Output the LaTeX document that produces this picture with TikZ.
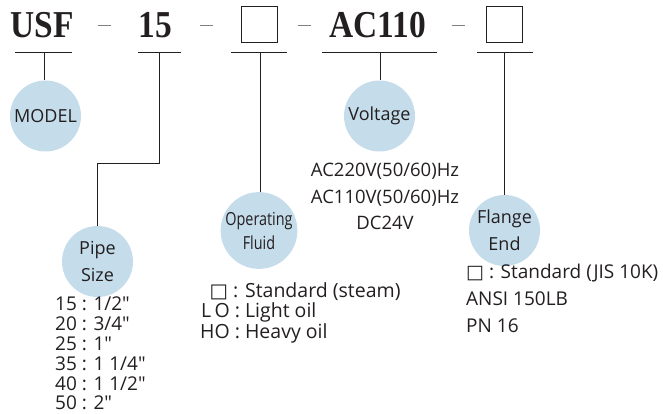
\documentclass[tikz,border=0pt]{standalone}
\usepackage{fontspec}
\setmainfont{Open Sans}
\newfontfamily\plainfont{Open Sans}
\newfontfamily\headfont[FakeStretch=0.88]{Liberation Serif}
\newfontfamily\narrowfont[FakeStretch=0.8]{Open Sans}
\newfontfamily\symfont{DejaVu Sans}
\usetikzlibrary{positioning}
\definecolor{bubblefill}{RGB}{197,220,235}
\definecolor{ink}{RGB}{35,31,32}

\begin{document}
\begin{tikzpicture}[x=1pt, y=-1pt,
    code/.style={font=\headfont\bfseries\fontsize{38}{40}\selectfont, text=ink, inner sep=0pt, anchor=base},
    slot/.style={draw=ink, line width=1.5pt, minimum width=36pt, minimum height=36pt, inner sep=0pt},
    sep/.style={draw=gray, line width=0.8pt},
    bar/.style={draw=ink, line width=0.9pt},
    bubble/.style={circle, fill=bubblefill, minimum size=71pt, inner sep=0pt, align=center, text=ink,
        font=\fontsize{18}{27}\selectfont},
    list/.style={inner sep=0pt, text=ink, font=\fontsize{18.5}{26.5}\selectfont}]
    \useasboundingbox (0,0) rectangle (663,414);

    % model code
    \node[code] (usf) at (42,38) {USF};
    \node[code] (size) at (155,38) {15};
    \node[slot] (fluid) at (259.5,24.5) {};
    \node[code] (volt) at (377.5,38) {AC110};
    \node[slot] (flange) at (504.5,24.5) {};

    \draw[sep] (98,25) -- (111,25);
    \draw[sep] (200,25) -- (213,25);
    \draw[sep] (298,25) -- (311,25);
    \draw[sep] (452,25) -- (465,25);

    % underlines
    \draw[bar] (15,52) -- (72,52);
    \draw[bar] (138,52) -- (181,52);
    \draw[bar] (231,52) -- (287,52);
    \draw[bar] (322,52) -- (437,52);
    \draw[bar] (477,52) -- (533,52);
    \coordinate (c1) at (44,52);
    \coordinate (c2) at (159,52);
    \coordinate (c3) at (260,52);
    \coordinate (c4) at (380,52);
    \coordinate (c5) at (504,52);
    \coordinate (bend) at (159,163);

    % bubbles
    \node[bubble] (model) at (45.5,116) {MODEL};
    \node[bubble] (pipe) at (97.5,261.5) {Pipe\\Size};
    \node[bubble, font=\narrowfont\fontsize{18}{24}\selectfont] (oper) at (259,230.5) {Operating\\Fluid};
    \node[bubble] (vdot) at (379.5,116) {Voltage};
    \node[bubble] (fend) at (504.5,230.5) {Flange\\End};

    \draw[bar] (c1) -- (c1 |- model.north);
    \draw[bar] (c2) -- (bend) -| (pipe.north);
    \draw[bar] (c3) -- (c3 |- oper.north);
    \draw[bar] (c4) -- (c4 |- vdot.north);
    \draw[bar] (c5) -- (c5 |- fend.north);

    % option lists
    \node[list, anchor=north, align=center] (vlist) at (385,163)
        {AC220V(50/60)Hz\\AC110V(50/60)Hz\\DC24V};
    \node[list, anchor=north west, align=left, font=\plainfont\fontsize{19}{19.8}\selectfont] (plist) at (55,297)
        {15 : 1/2"\\20 : 3/4"\\25 : 1"\\35 : 1 1/4"\\40 : 1 1/2"\\50 : 2"};
    \node[list, anchor=north west, font=\fontsize{19.5}{20.5}\selectfont] (flist) at (200,282)
        {\begin{tabular}{@{}r@{ : }l@{}}
            {\symfont □} & Standard (steam)\\
            L\,O & Light oil\\
            HO & Heavy oil
        \end{tabular}};
    \node[list, anchor=north west, align=left, font=\fontsize{19}{27}\selectfont] (elist) at (466,264)
        {{\symfont □} : Standard (JIS 10K)\\ANSI 150LB\\PN 16};
\end{tikzpicture}
\end{document}
